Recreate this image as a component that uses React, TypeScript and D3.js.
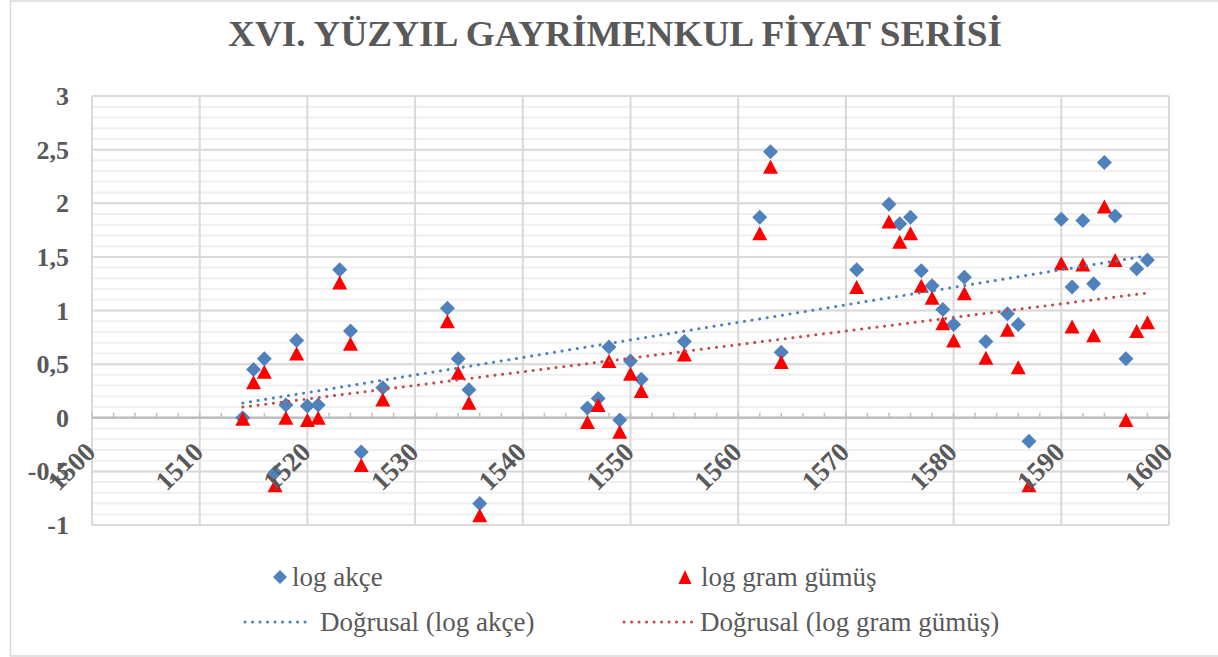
import React from "react";
import * as d3 from "d3";

const years = [1514, 1515, 1516, 1517, 1518, 1519, 1520, 1521, 1523, 1524, 1525, 1527, 1533, 1534, 1535, 1536, 1546, 1547, 1548, 1549, 1550, 1551, 1555, 1562, 1563, 1564, 1571, 1574, 1575, 1576, 1577, 1578, 1579, 1580, 1581, 1583, 1585, 1586, 1587, 1590, 1591, 1592, 1593, 1594, 1595, 1596, 1597, 1598];
const logAkce = [0.0, 0.45, 0.55, -0.51, 0.12, 0.72, 0.11, 0.12, 1.38, 0.81, -0.32, 0.28, 1.02, 0.55, 0.26, -0.8, 0.09, 0.18, 0.66, -0.02, 0.53, 0.36, 0.71, 1.87, 2.48, 0.61, 1.38, 1.99, 1.81, 1.87, 1.37, 1.23, 1.01, 0.87, 1.31, 0.71, 0.97, 0.87, -0.22, 1.85, 1.22, 1.84, 1.25, 2.38, 1.88, 0.55, 1.39, 1.47];
const logGram = [-0.01, 0.33, 0.43, -0.63, 0.0, 0.6, -0.02, 0.0, 1.26, 0.69, -0.44, 0.17, 0.9, 0.42, 0.14, -0.91, -0.04, 0.12, 0.53, -0.13, 0.41, 0.25, 0.59, 1.72, 2.34, 0.52, 1.22, 1.83, 1.64, 1.72, 1.23, 1.12, 0.88, 0.72, 1.16, 0.56, 0.82, 0.47, -0.63, 1.44, 0.85, 1.43, 0.77, 1.97, 1.47, -0.02, 0.81, 0.89];
const yTicks = [3, 2.5, 2, 1.5, 1, 0.5, 0, -0.5, -1];
const yTickLabels = ["3", "2,5", "2", "1,5", "1", "0,5", "0", "-0,5", "-1"];
const xTicks = [1500, 1510, 1520, 1530, 1540, 1550, 1560, 1570, 1580, 1590, 1600];
const title = "XVI. YÜZYIL GAYRİMENKUL FİYAT SERİSİ";
const legendLabels = ["log akçe", "log gram gümüş", "Doğrusal (log akçe)", "Doğrusal (log gram gümüş)"];

const BLUE = "#4F81BD";
const RED = "#FF0000";
const TREND_RED = "#C0504D";
const TEXT = "#595959";
const FONT = "Liberation Serif, DejaVu Serif, serif";

function linReg(xs: number[], ys: number[]) {
  const mx = d3.mean(xs) as number;
  const my = d3.mean(ys) as number;
  let num = 0, den = 0;
  xs.forEach((x, i) => { num += (x - mx) * (ys[i] - my); den += (x - mx) * (x - mx); });
  const b = num / den;
  const a = my - b * mx;
  return (x: number) => a + b * x;
}

export default function App() {
  const W = 1218, H = 657;
  const L = 92, R = 1169, T = 96, B = 525;
  const x = d3.scaleLinear().domain([1500, 1600]).range([L, R]);
  const y = d3.scaleLinear().domain([-1, 3]).range([B, T]);
  const minorY = d3.range(-10, 31).map((v) => v / 10);
  const minorX = d3.range(1500, 1601, 2);
  const y0 = y(0);

  const fA = linReg(years, logAkce);
  const fG = linReg(years, logGram);
  const x0 = d3.min(years) as number, x1 = d3.max(years) as number;
  const line = d3.line<[number, number]>().x((d) => x(d[0])).y((d) => y(d[1]));

  const diamond = (cx: number, cy: number, r: number) =>
    `M${cx},${cy - r}L${cx + r},${cy}L${cx},${cy + r}L${cx - r},${cy}Z`;
  const tri = (cx: number, cy: number, w: number, h: number) =>
    `M${cx},${cy - h / 2}L${cx + w / 2},${cy + h / 2}L${cx - w / 2},${cy + h / 2}Z`;

  const ts = { fontFamily: FONT } as React.CSSProperties;

  return (
    <svg width={W} height={H} style={{ position: "absolute", left: 0, top: 0, background: "#fff" }}>
      <rect x={10.5} y={1} width={1220} height={655} fill="#fff" stroke="#d9d9d9" strokeWidth={1.5} />
      <text x={615} y={46} textAnchor="middle" style={ts} fontWeight="bold" fontSize={36} fill={TEXT}
        textLength={774} lengthAdjust="spacingAndGlyphs">{title}</text>

      {minorY.map((v) => (
        <line key={"my" + v} x1={L} x2={R} y1={y(v)} y2={y(v)} stroke="#efefef" strokeWidth={2} />
      ))}
      {yTicks.map((v) => (
        <line key={"gy" + v} x1={L} x2={R} y1={y(v)} y2={y(v)} stroke="#d9d9d9" strokeWidth={2} />
      ))}
      {xTicks.map((v) => (
        <line key={"gx" + v} x1={x(v)} x2={x(v)} y1={T} y2={B} stroke="#d9d9d9" strokeWidth={2} />
      ))}
      <line x1={L} x2={R} y1={y0} y2={y0} stroke="#bfbfbf" strokeWidth={2.5} />
      {minorX.map((v) => (
        <line key={"tx" + v} x1={x(v)} x2={x(v)} y1={y0 - 5} y2={y0} stroke="#bfbfbf" strokeWidth={1.5} />
      ))}

      {yTicks.map((v, i) => (
        <text key={"yl" + v} x={69} y={y(v)} dy="0.35em" textAnchor="end" style={ts} fontWeight="bold"
          fontSize={26} fill={TEXT}>{yTickLabels[i]}</text>
      ))}

      {years.map((yr, i) => (
        <path key={"a" + yr} d={diamond(x(yr), y(logAkce[i]), 7.5)} fill={BLUE} />
      ))}
      {years.map((yr, i) => (
        <path key={"g" + yr} d={tri(x(yr), y(logGram[i]), 15, 14)} fill={RED} />
      ))}

      <path d={line([[x0, fA(x0)], [x1, fA(x1)]]) as string} stroke={BLUE} strokeWidth={3} fill="none"
        strokeDasharray="0.1 7.6" strokeLinecap="round" />
      <path d={line([[x0, fG(x0)], [x1, fG(x1)]]) as string} stroke={TREND_RED} strokeWidth={3} fill="none"
        strokeDasharray="0.1 7.6" strokeLinecap="round" />

      {xTicks.map((v) => (
        <text key={"xl" + v} transform={`translate(${x(v) + 5},${y0 + 36}) rotate(-45)`} textAnchor="end"
          style={ts} fontWeight="bold" fontSize={27} fill={TEXT}>{v}</text>
      ))}

      <g style={ts} fontSize={27} fill={TEXT}>
        <path d={diamond(280, 577, 7)} fill={BLUE} />
        <text x={292} y={577} dy="0.32em">{legendLabels[0]}</text>
        <path d={tri(685, 577, 13, 14)} fill={RED} />
        <text x={701} y={577} dy="0.32em">{legendLabels[1]}</text>
        <line x1={245} x2={312} y1={622} y2={622} stroke={BLUE} strokeWidth={3} strokeDasharray="0.1 7.4" strokeLinecap="round" />
        <text x={320} y={622} dy="0.32em">{legendLabels[2]}</text>
        <line x1={624} x2={692} y1={622} y2={622} stroke={TREND_RED} strokeWidth={3} strokeDasharray="0.1 7.4" strokeLinecap="round" />
        <text x={700} y={622} dy="0.32em">{legendLabels[3]}</text>
      </g>
    </svg>
  );
}
